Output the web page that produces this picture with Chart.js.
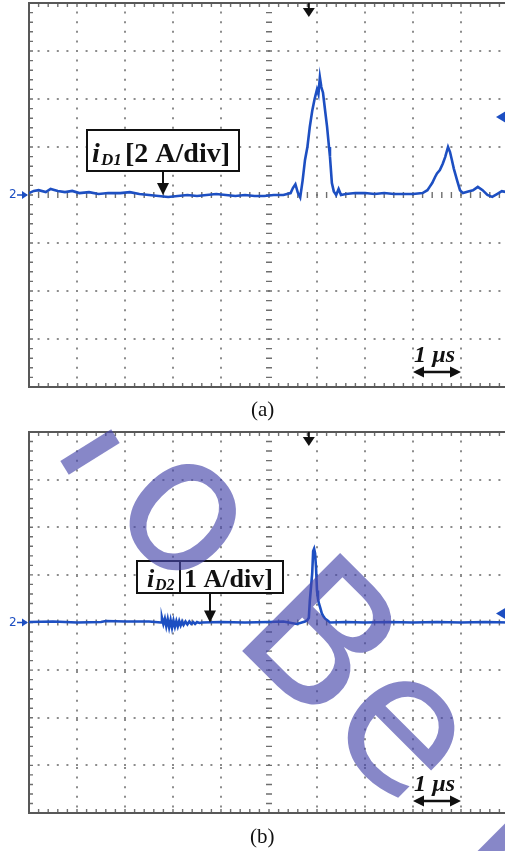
<!DOCTYPE html>
<html><head><meta charset="utf-8">
<script src="https://cdn.jsdelivr.net/npm/chart.js@4/dist/chart.umd.min.js"></script>
<style>
html,body{margin:0;padding:0;background:#fff;width:505px;height:851px;overflow:hidden;position:relative}
canvas{position:absolute;left:0}
#cA{top:0}
#cB{top:420px}
.cap{position:absolute;font-family:'Liberation Serif','Times New Roman',serif;font-size:21px;color:#111;line-height:1.15}
.wm{position:absolute;font-family:'DejaVu Sans',sans-serif;font-size:190px;line-height:1;color:rgba(70,70,170,0.65);transform:translate(-50%,-50%) rotate(45deg);white-space:nowrap;pointer-events:none}
.wmbar{position:absolute;background:rgba(70,70,170,0.65);pointer-events:none}
</style></head><body>
<canvas id="cA" width="520" height="400"></canvas>
<canvas id="cB" width="520" height="431"></canvas>
<div class="cap" style="left:251px;top:397px">(a)</div>
<div class="cap" style="left:250px;top:824px">(b)</div>
<div class="wmbar" style="left:90px;top:452px;width:60px;height:16px;transform:translate(-50%,-50%) rotate(-32deg)"></div>
<span class="wm" style="left:192px;top:508px">o</span>
<span class="wm" style="left:321px;top:638px">B</span>
<span class="wm" style="left:409px;top:724px">e</span>
<div class="wmbar" style="left:500px;top:842px;width:60px;height:19px;transform:translate(-50%,-50%) rotate(-45deg)"></div>
<script>
// ---- data (time in µs, current in A) ----
const timeA = [0,0.1,0.2,0.35,0.45,0.6,0.75,0.9,1.05,1.25,1.45,1.65,1.9,2.1,2.3,2.5,2.7,2.9,3.1,3.3,3.5,3.7,3.9,4.1,4.3,4.5,4.7,4.9,5.1,5.3,5.45,5.5,5.55,5.6,5.65,5.7,5.75,5.8,5.85,5.9,5.95,6.0,6.03,6.06,6.09,6.125,6.17,6.21,6.25,6.27,6.31,6.35,6.4,6.45,6.5,6.6,6.8,7.0,7.2,7.4,7.6,7.8,8.0,8.2,8.3,8.35,8.4,8.46,8.5,8.56,8.62,8.67,8.73,8.77,8.81,8.85,8.875,8.92,8.98,9.04,9.15,9.25,9.35,9.45,9.55,9.65,9.75,9.85,9.95,10.0];
const iD1 = [0.08,0.17,0.2,0.12,0.25,0.17,0.12,0.17,0.08,0.12,0.04,0.08,0.08,0.12,0.04,0,-0.04,-0.08,-0.04,0,-0.04,0,0.04,0,-0.04,0,-0.04,-0.04,0,0,0.08,0.3,0.45,0.1,-0.1,0.6,1.46,2.0,2.84,3.5,4.0,4.4,4.2,4.9,4.5,4.26,3.5,2.84,2.0,1.6,0.5,0.15,0.0,0.25,0.0,0.04,0.08,0.08,0.04,0.08,0.04,0.04,0.04,0.08,0.2,0.35,0.5,0.75,0.9,1.04,1.3,1.58,2.0,1.8,1.46,1.1,0.92,0.6,0.2,0.08,0.15,0.2,0.34,0.2,0.0,-0.08,0.04,0.16,0.12,0.1];
const timeB = [0,0.5,1.0,1.5,1.6,2.0,2.5,2.75,2.77,2.8,2.83,2.86,2.89,2.92,2.95,2.98,3.01,3.04,3.07,3.1,3.13,3.16,3.19,3.22,3.26,3.3,3.34,3.38,3.42,3.46,3.5,3.55,3.6,4.0,4.5,5.0,5.3,5.58,5.75,5.8,5.83,5.85,5.88,5.9,5.92,5.94,5.96,5.98,6.0,6.02,6.04,6.07,6.1,6.14,6.17,6.22,6.27,6.6,7.0,7.5,8.0,8.5,9.0,9.5,10.0];
const iD2 = [0.01,0.02,0.0,0.01,0.03,0.02,0.02,0,0.1,-0.03,0.08,-0.08,0.07,-0.1,0.05,-0.11,0.04,-0.09,0.03,-0.08,0.03,-0.06,0.02,-0.05,0.02,-0.04,0.02,-0.03,0.01,-0.03,0.01,-0.01,0,0.01,0.0,0.01,0.02,-0.03,0.02,0.05,0.1,0.45,0.8,1.03,1.5,1.55,1.45,1.15,0.67,0.5,0.4,0.3,0.19,0.12,0.08,0.04,0.0,0.01,0.0,0.01,0.0,0.01,0.0,0.01,0.0];
const xTicks = [0,1,2,3,4,5,6,7,8,9,10];       // µs, 1 µs/div
const scaleA = 2;   // A/div, panel (a)
const scaleB = 1;   // A/div, panel (b)
const triggerTime = 5.83;   // µs
const triggerLevelA = 3.25; // A
const triggerLevelB = 0.19; // A

const TRACE = '#1d4fc2';
const SERIF = "'Liberation Serif','Times New Roman',serif";

function arrowDown(ctx, x, y1, y2, hw, hl) {
  ctx.beginPath(); ctx.moveTo(x, y1); ctx.lineTo(x, y2 - hl + 1); ctx.stroke();
  ctx.beginPath(); ctx.moveTo(x - hw, y2 - hl); ctx.lineTo(x + hw, y2 - hl); ctx.lineTo(x, y2); ctx.closePath(); ctx.fill();
}

const decor = {
  id: 'decor',
  beforeDatasetsDraw(chart, args, o) {
    const {ctx, chartArea: a, scales: {x, y}} = chart;
    const cx = x.getPixelForValue(5), cy = y.getPixelForValue(0);
    ctx.save();
    ctx.strokeStyle = '#6e6e6e'; ctx.lineWidth = 1.4;
    ctx.beginPath();
    for (let i = 0; i <= 50; i++) {
      const px = x.getPixelForValue(x.min + i * (x.max - x.min) / 50);
      ctx.moveTo(px, a.top); ctx.lineTo(px, a.top + 4);
      ctx.moveTo(px, a.bottom); ctx.lineTo(px, a.bottom - 4);
      ctx.moveTo(px, cy - 3); ctx.lineTo(px, cy + 3);
    }
    for (let i = 0; i <= 40; i++) {
      const py = y.getPixelForValue(y.min + i * (y.max - y.min) / 40);
      ctx.moveTo(a.left, py); ctx.lineTo(a.left + 4, py);
      ctx.moveTo(a.right, py); ctx.lineTo(a.right - 4, py);
      ctx.moveTo(cx - 3, py); ctx.lineTo(cx + 3, py);
    }
    ctx.stroke();
    ctx.strokeStyle = '#585858'; ctx.lineWidth = 2;
    ctx.strokeRect(a.left, a.top, a.right - a.left, a.bottom - a.top);
    ctx.restore();
  },
  afterDatasetsDraw(chart, args, o) {
    const {ctx, chartArea: a, scales: {x, y}} = chart;
    const cy = y.getPixelForValue(0);
    ctx.save();
    // left channel marker "2"
    ctx.fillStyle = TRACE; ctx.strokeStyle = TRACE; ctx.lineWidth = 1.5;
    ctx.font = "12px 'DejaVu Sans', sans-serif";
    ctx.textBaseline = 'middle'; ctx.textAlign = 'left';
    ctx.fillText('2', 9, cy);
    ctx.beginPath(); ctx.moveTo(17, cy); ctx.lineTo(27, cy); ctx.stroke();
    ctx.beginPath(); ctx.moveTo(22, cy - 4); ctx.lineTo(28, cy); ctx.lineTo(22, cy + 4); ctx.closePath(); ctx.fill();
    // right trigger level marker
    const ty = y.getPixelForValue(o.level);
    ctx.beginPath(); ctx.moveTo(496, ty); ctx.lineTo(506, ty - 6); ctx.lineTo(506, ty + 6); ctx.closePath(); ctx.fill();
    // trigger position marker (top)
    const tx = x.getPixelForValue(triggerTime);
    ctx.fillStyle = '#111'; ctx.strokeStyle = '#111'; ctx.lineWidth = 2;
    ctx.beginPath(); ctx.moveTo(tx, a.top); ctx.lineTo(tx, a.top + 8); ctx.stroke();
    ctx.beginPath(); ctx.moveTo(tx - 6, a.top + 5); ctx.lineTo(tx + 6, a.top + 5); ctx.lineTo(tx, a.top + 14); ctx.closePath(); ctx.fill();
    // label boxes
    ctx.textBaseline = 'alphabetic';
    ctx.lineWidth = 2;
    for (const b of o.boxes) {
      ctx.fillStyle = '#fff';
      ctx.fillRect(b[0], b[1], b[2] - b[0], b[3] - b[1]);
      ctx.strokeStyle = '#111';
      ctx.strokeRect(b[0], b[1], b[2] - b[0], b[3] - b[1]);
    }
    ctx.fillStyle = '#111';
    const L = o.label;
    ctx.font = `italic bold ${L.fs}px ${SERIF}`;
    ctx.fillText('i', L.ix, L.base);
    ctx.font = `italic bold ${L.sfs}px ${SERIF}`;
    ctx.fillText(L.sub, L.sx, L.base + 3);
    ctx.font = `bold ${L.fs}px ${SERIF}`;
    ctx.fillText(L.text, L.tx, L.base);
    ctx.lineWidth = 2;
    arrowDown(ctx, L.ax, L.ay1, cy, 6, 12);
    // 1 µs marker
    const x1 = x.getPixelForValue(8), x2 = x.getPixelForValue(9);
    const ay = a.bottom - o.usOff;
    ctx.font = `italic bold 24px ${SERIF}`;
    ctx.fillText('1 µs', x1 + 1, ay - 10);
    ctx.lineWidth = 2.5;
    ctx.beginPath(); ctx.moveTo(x1 + 6, ay); ctx.lineTo(x2 - 6, ay); ctx.stroke();
    ctx.beginPath(); ctx.moveTo(x1, ay); ctx.lineTo(x1 + 11, ay - 5.5); ctx.lineTo(x1 + 11, ay + 5.5); ctx.closePath(); ctx.fill();
    ctx.beginPath(); ctx.moveTo(x2, ay); ctx.lineTo(x2 - 11, ay - 5.5); ctx.lineTo(x2 - 11, ay + 5.5); ctx.closePath(); ctx.fill();
    ctx.restore();
  }
};

function makeChart(id, t, v, perDiv, pad, decorOpts) {
  const excludeX = [xTicks[0], 5, xTicks[xTicks.length - 1]];
  const ymax = 4 * perDiv;
  return new Chart(document.getElementById(id), {
    type: 'line',
    data: { datasets: [{ data: t.map((tt, i) => ({x: tt, y: v[i]})), borderColor: TRACE, borderWidth: 2.6, pointRadius: 0, tension: 0, fill: false }] },
    options: {
      responsive: false, animation: false, events: [],
      layout: { padding: pad },
      plugins: { legend: {display: false}, tooltip: {enabled: false}, decor: decorOpts },
      scales: {
        x: { type: 'linear', min: xTicks[0], max: xTicks[xTicks.length - 1],
             ticks: { display: false, stepSize: 1 },
             grid: { drawTicks: false, lineWidth: 2, color: c => excludeX.includes(c.tick.value) ? 'rgba(0,0,0,0)' : '#8c8c8c' },
             border: { display: false, dash: [2, 7.6], dashOffset: 1 } },
        y: { type: 'linear', min: -ymax, max: ymax,
             ticks: { display: false, stepSize: perDiv },
             grid: { drawTicks: false, lineWidth: 2, color: c => [-ymax, 0, ymax].includes(c.tick.value) ? 'rgba(0,0,0,0)' : '#8c8c8c' },
             border: { display: false, dash: [2, 7.6], dashOffset: 1 } }
      }
    },
    plugins: [decor]
  });
}

makeChart('cA', timeA, iD1, scaleA, {left: 29, top: 3, right: 11, bottom: 13}, {
  level: triggerLevelA, usOff: 15,
  boxes: [[87, 130, 239, 171]],
  label: { fs: 28, sfs: 17, ix: 92, sub: 'D1', sx: 101, tx: 125, text: '[2 A/div]', base: 162, ax: 163, ay1: 171 }
});
makeChart('cB', timeB, iD2, scaleB, {left: 29, top: 12, right: 11, bottom: 38}, {
  level: triggerLevelB, usOff: 12,
  boxes: [[137, 141, 180, 173], [180, 141, 283, 173]],
  label: { fs: 26, sfs: 16, ix: 147, sub: 'D2', sx: 155, tx: 184, text: '1 A/div]', base: 167, ax: 210, ay1: 173 }
});
</script>
</body></html>
